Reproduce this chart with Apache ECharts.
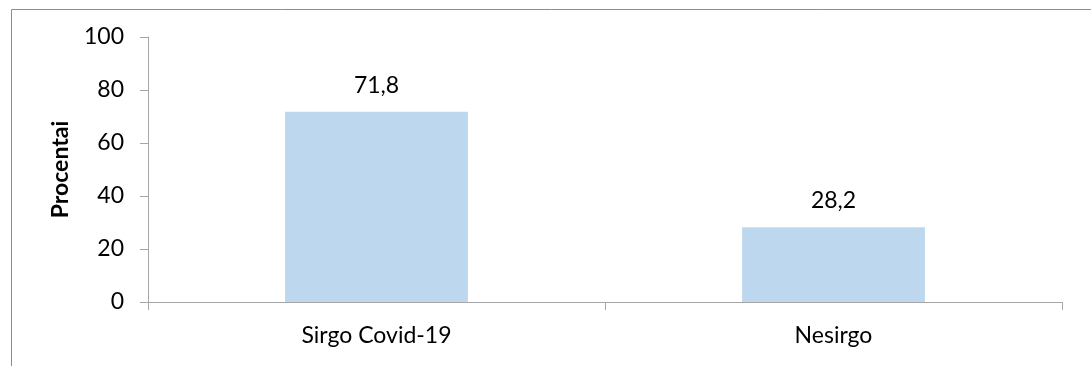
<!DOCTYPE html>
<html>
<head>
<meta charset="utf-8">
<script src="https://cdn.jsdelivr.net/npm/echarts@6/dist/echarts.min.js"></script>
<style>
  html, body { margin: 0; padding: 0; background: #fff; }
  #chart { width: 1091px; height: 366px; }
</style>
</head>
<body>
<div id="chart"></div>
<script>
// Share of respondents who had / had not had Covid-19
const categories = ['Sirgo Covid-19', 'Nesirgo'];
const percentValues = [71.8, 28.2];
const yTicks = [0, 20, 40, 60, 80, 100];
const yAxisTitle = 'Procentai';

const FONT = 'Lato, "Open Sans", sans-serif';
const fmt = v => String(v).replace('.', ',');

const chart = echarts.init(document.getElementById('chart'), null, { renderer: 'canvas' });
chart.setOption({
  animation: false,
  backgroundColor: '#ffffff',
  graphic: [{
    type: 'rect',
    left: 9, top: 7,
    shape: { width: 1081, height: 380 },
    style: { fill: 'none', stroke: '#8c8c8c', lineWidth: 1 },
    silent: true
  }],
  grid: { left: 148, right: 29, top: 37, bottom: 64, containLabel: false },
  xAxis: {
    type: 'category',
    data: categories,
    axisLine: { lineStyle: { color: '#a6a6a6', width: 1 } },
    axisTick: { show: true, length: 8, alignWithLabel: false, lineStyle: { color: '#a6a6a6' } },
    axisLabel: { color: '#000', fontFamily: FONT, fontSize: 23, margin: 22 }
  },
  yAxis: {
    type: 'value',
    min: yTicks[0],
    max: yTicks[yTicks.length - 1],
    interval: yTicks[1] - yTicks[0],
    name: yAxisTitle,
    nameLocation: 'middle',
    nameGap: 76,
    nameTextStyle: { color: '#000', fontFamily: FONT, fontSize: 23, fontWeight: 'bold' },
    axisLine: { show: true, lineStyle: { color: '#a6a6a6', width: 1 } },
    axisTick: { show: true, length: 8, inside: false, lineStyle: { color: '#a6a6a6' } },
    splitLine: { show: false },
    axisLabel: { color: '#000', fontFamily: FONT, fontSize: 23, margin: 24 }
  },
  series: [{
    type: 'bar',
    data: percentValues,
    barWidth: '40%',
    itemStyle: { color: '#bdd7ee' },
    label: {
      show: true,
      position: 'top',
      distance: 15,
      color: '#000',
      fontFamily: FONT,
      fontSize: 23,
      formatter: p => fmt(p.value)
    }
  }]
});
</script>
</body>
</html>
